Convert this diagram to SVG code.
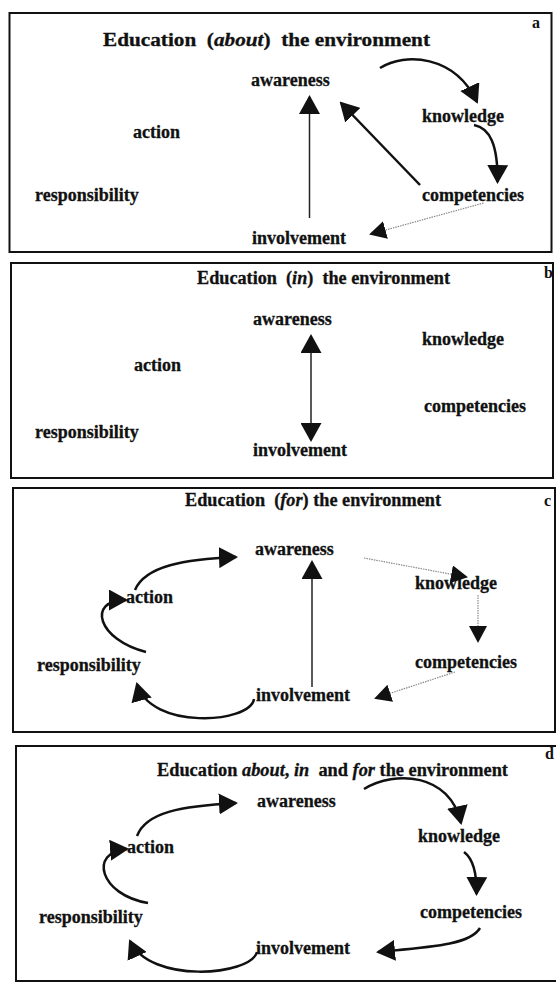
<svg xmlns="http://www.w3.org/2000/svg" width="556" height="983" viewBox="0 0 556 983">
<style>
.lbl{font-family:"Liberation Serif","Times New Roman",serif;font-weight:bold;font-size:18px;fill:#111;stroke:#111;stroke-width:0.3}
.tag{font-family:"Liberation Serif","Times New Roman",serif;font-weight:bold;font-size:16px;fill:#111}
.it{font-style:italic}
.frame{fill:none;stroke:#111;stroke-width:2}
.solid{fill:none;stroke:#111;stroke-width:2.5;marker-end:url(#ah)}
.thin{fill:none;stroke:#222;stroke-width:1.5;marker-end:url(#ah)}
.dot{fill:none;stroke:#8a8a8a;stroke-width:1.2;stroke-dasharray:1.5 1;marker-end:url(#ahs)}
</style>
<defs>
<marker id="ah" markerUnits="userSpaceOnUse" markerWidth="19" markerHeight="21" viewBox="0 0 19 21" refX="17" refY="10.5" orient="auto-start-reverse"><path d="M0,0 L19,10.5 L0,21 z" fill="#111"/></marker>
<marker id="ahs" markerUnits="userSpaceOnUse" markerWidth="17" markerHeight="18" viewBox="0 0 17 18" refX="15" refY="9" orient="auto"><path d="M0,0 L17,9 L0,18 z" fill="#111"/></marker>
</defs>
<rect width="556" height="983" fill="#fff"/>

<g id="frames">
<rect class="frame" x="9.5" y="13" width="542" height="239"/>
<rect class="frame" x="11" y="263" width="542" height="215"/>
<rect class="frame" x="13" y="488" width="542" height="244"/>
<rect class="frame" x="16" y="746" width="550" height="235"/>
</g>

<!-- Panel a -->
<g id="panel-a">
<text class="tag" x="532" y="28">a</text>
<text class="lbl" x="103" y="46" textLength="327" lengthAdjust="spacingAndGlyphs" xml:space="preserve">Education  (<tspan class="it">about</tspan>)  the environment</text>
<g id="a-awareness"><text class="lbl" x="251" y="86">awareness</text></g>
<g id="a-knowledge"><text class="lbl" x="422" y="122">knowledge</text></g>
<g id="a-action"><text class="lbl" x="133" y="138">action</text></g>
<g id="a-responsibility"><text class="lbl" x="35" y="201">responsibility</text></g>
<g id="a-competencies"><text class="lbl" x="422" y="201">competencies</text></g>
<g id="a-involvement"><text class="lbl" x="252" y="244">involvement</text></g>
</g>

<!-- Panel b -->
<g id="panel-b">
<text class="tag" x="544" y="278">b</text>
<text class="lbl" x="197" y="284" textLength="253" lengthAdjust="spacingAndGlyphs" xml:space="preserve">Education  (<tspan class="it">in</tspan>)  the environment</text>
<g id="b-awareness"><text class="lbl" x="253" y="325">awareness</text></g>
<g id="b-knowledge"><text class="lbl" x="422" y="345">knowledge</text></g>
<g id="b-action"><text class="lbl" x="134" y="371">action</text></g>
<g id="b-competencies"><text class="lbl" x="424" y="412">competencies</text></g>
<g id="b-responsibility"><text class="lbl" x="35" y="438">responsibility</text></g>
<g id="b-involvement"><text class="lbl" x="253" y="456">involvement</text></g>
</g>

<!-- Panel c -->
<g id="panel-c">
<text class="tag" x="544" y="506">c</text>
<text class="lbl" x="185" y="506" textLength="256" lengthAdjust="spacingAndGlyphs" xml:space="preserve">Education  (<tspan class="it">for</tspan>) the environment</text>
<g id="c-awareness"><text class="lbl" x="255" y="555">awareness</text></g>
<g id="c-knowledge"><text class="lbl" x="415" y="589">knowledge</text></g>
<g id="c-action"><text class="lbl" x="126" y="603">action</text></g>
<g id="c-responsibility"><text class="lbl" x="37" y="671">responsibility</text></g>
<g id="c-competencies"><text class="lbl" x="415" y="668">competencies</text></g>
<g id="c-involvement"><text class="lbl" x="256" y="701">involvement</text></g>
</g>

<!-- Panel d -->
<g id="panel-d">
<text class="tag" x="545" y="759">d</text>
<text class="lbl" x="157" y="776" textLength="351" lengthAdjust="spacingAndGlyphs" xml:space="preserve">Education <tspan class="it">about</tspan>, <tspan class="it">in</tspan>  and <tspan class="it">for</tspan> the environment</text>
<g id="d-awareness"><text class="lbl" x="257" y="807">awareness</text></g>
<g id="d-knowledge"><text class="lbl" x="418" y="842">knowledge</text></g>
<g id="d-action"><text class="lbl" x="127" y="853">action</text></g>
<g id="d-responsibility"><text class="lbl" x="39" y="923">responsibility</text></g>
<g id="d-competencies"><text class="lbl" x="420" y="918">competencies</text></g>
<g id="d-involvement"><text class="lbl" x="256" y="954">involvement</text></g>
</g>

<g id="connectors">
<!-- a -->
<path class="solid" d="M380 68 C405 52 455 55 477 102"/>
<path class="solid" d="M474 125 C490 128 498 145 497.5 182"/>
<path class="solid" d="M420 185 L341 103"/>
<path class="thin" d="M309.5 218 L309.5 97"/>
<path class="dot" d="M483.5 203 L371 234"/>
<!-- b -->
<path class="thin" style="marker-start:url(#ah)" d="M311 336 L311 440"/>
<!-- c -->
<path class="solid" d="M135 590 C145 566 185 559 236 557"/>
<path class="solid" d="M146 652 C98 640 86 600 126 600"/>
<path class="solid" d="M254 699 C250 724 150 730 137 684"/>
<path class="thin" d="M312 687 L312 562"/>
<path class="dot" d="M364 558 L466 577"/>
<path class="dot" d="M478 595 L478 641"/>
<path class="dot" d="M455 672 L376 698"/>
<!-- d -->
<path class="solid" d="M137 836 C146 812 182 806 236 803"/>
<path class="solid" d="M148 903 C100 895 88 852 127 849"/>
<path class="solid" d="M257 952 C250 976 150 984 130 941"/>
<path class="solid" d="M364 789 C395 770 450 773 461 823"/>
<path class="solid" d="M464 852 C472 858 477 870 476.5 894"/>
<path class="solid" d="M480 928 C470 945 430 947 378 952"/>
</g>
</svg>
